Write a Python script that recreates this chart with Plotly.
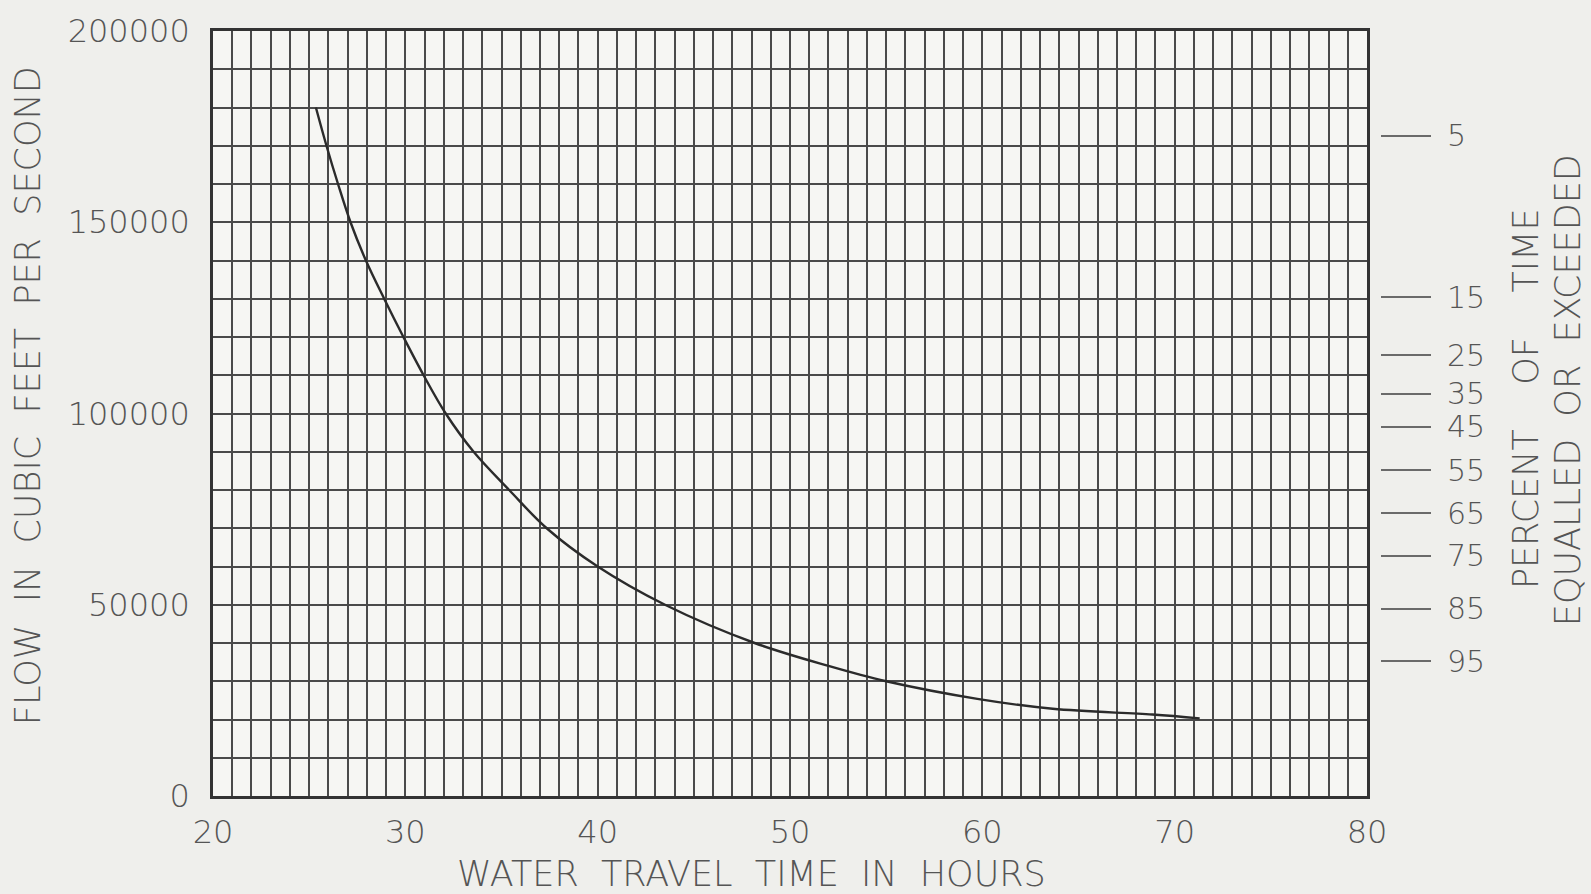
import plotly.graph_objects as go

# ---- data ----
travel_hours = [25.35, 25.9, 26.5, 27.15, 27.95, 28.9, 29.9, 30.95, 32.1, 33.55,
                35.4, 37.35, 40.0, 43.5, 48.16, 52.0, 55.0, 59.74, 63.66, 68.84, 71.3]
flow_cfs = [180000, 170000, 160000, 150000, 140000, 130000, 120000, 110000, 100000, 90000,
            80000, 70000, 60000, 50000, 40000, 34000, 30000, 25400, 22800, 21300, 20300]

x_tick_vals = [20, 30, 40, 50, 60, 70, 80]
x_tick_text = ["20", "30", "40", "50", "60", "70", "80"]
y_tick_vals = [0, 50000, 100000, 150000, 200000]
y_tick_text = ["0", "50000", "100000", "150000", "200000"]

pct_labels = ["5", "15", "25", "35", "45", "55", "65", "75", "85", "95"]
pct_flow = [172600, 130400, 115200, 105200, 96500, 85100, 73900, 62800, 48900, 35200]

NB2 = "\u00a0\u00a0"
NB4 = "\u00a0\u00a0\u00a0\u00a0"
x_title = NB2.join(["WATER", "TRAVEL", "TIME", "IN", "HOURS"])
y_title = NB2.join(["FLOW", "IN", "CUBIC", "FEET", "PER", "SECOND"])
r_title1 = NB4.join(["PERCENT", "OF", "TIME"])
r_title2 = NB2.join(["EQUALLED", "OR", "EXCEEDED"])

# ---- style ----
FONT = "DejaVu Sans"
TXT = "#555555"
GRID = "#4a4a4a"
W, H = 1591, 894
L, R, T, B = 213, 211, 25, 98
plot_right = 1367
dom_x = (plot_right - L) / (W - L - R)

fig = go.Figure()
fig.add_trace(go.Scatter(
    x=travel_hours, y=flow_cfs, mode="lines",
    line=dict(color="#2b2b2b", width=2.4, shape="spline", smoothing=1.0),
    showlegend=False, hoverinfo="x+y"))
fig.add_trace(go.Scatter(x=[None], y=[None], yaxis="y2", showlegend=False, hoverinfo="skip"))

grid_common = dict(showgrid=True, gridcolor=GRID, gridwidth=1.6)
tick_font = dict(family=FONT, size=32, color=TXT, weight=300)

fig.update_layout(
    width=W, height=H, autosize=False,
    margin=dict(l=L, r=R, t=T, b=B, pad=0),
    paper_bgcolor="#efefec", plot_bgcolor="#f6f6f3",
    font=dict(family=FONT, color=TXT, size=30, weight=300),
    xaxis=dict(range=[20, 80], domain=[0, dom_x], tickmode="array",
               tickvals=x_tick_vals, ticktext=x_tick_text, ticks="",
               minor=dict(dtick=1, tick0=0, showgrid=True, gridcolor=GRID, gridwidth=1.6, ticks=""),
               showline=True, mirror=True, linecolor="#333333", linewidth=2.6,
               zeroline=False, ticklabelstandoff=6,
               tickfont=tick_font, **grid_common),
    yaxis=dict(range=[0, 200000], tickmode="array",
               tickvals=y_tick_vals, ticktext=y_tick_text, ticks="",
               minor=dict(dtick=10000, tick0=0, showgrid=True, gridcolor=GRID, gridwidth=1.6, ticks=""),
               showline=True, mirror=True, linecolor="#333333", linewidth=2.6,
               zeroline=False, ticklabelstandoff=14,
               tickfont=tick_font, **grid_common),
    yaxis2=dict(range=[0, 200000], overlaying="y", side="right", anchor="free", position=1,
                tickmode="array", tickvals=pct_flow, ticktext=pct_labels,
                ticks="outside", ticklen=50, tickwidth=1.5, tickcolor="#6a6a6a",
                showgrid=False, showline=False, zeroline=False, ticklabelstandoff=10,
                tickfont=dict(family=FONT, size=30, color=TXT, weight=300)),
)

ph = H - T - B
pw = W - L - R
def px(xp):
    return (xp - L) / pw
def py(yp):
    return (H - B - yp) / ph

ann_font = dict(family=FONT, size=35, color=TXT, weight=300)
fig.add_annotation(text=x_title, xref="paper", yref="paper", x=px(751), y=py(875),
                   xanchor="center", yanchor="middle", showarrow=False, font=ann_font)
fig.add_annotation(text=y_title, xref="paper", yref="paper", x=px(28), y=py(393),
                   xanchor="center", yanchor="middle", textangle=-90, showarrow=False, font=ann_font)
fig.add_annotation(text=r_title1, xref="paper", yref="paper", x=px(1526), y=py(396),
                   xanchor="center", yanchor="middle", textangle=-90, showarrow=False, font=ann_font)
fig.add_annotation(text=r_title2, xref="paper", yref="paper", x=px(1568), y=py(387),
                   xanchor="center", yanchor="middle", textangle=-90, showarrow=False, font=ann_font)

fig.write_html("out.html", config={"displayModeBar": False},
               post_script="document.body.style.margin='0';document.body.style.overflow='hidden';")
